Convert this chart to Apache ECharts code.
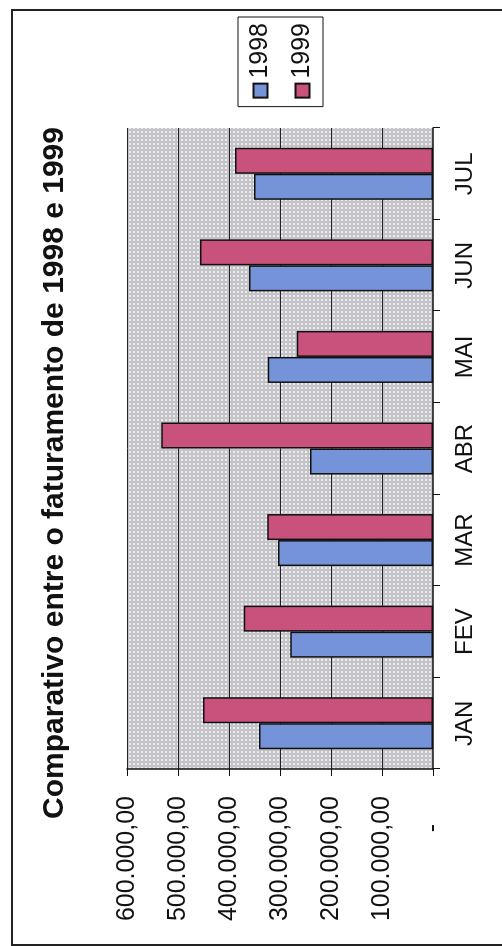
<!DOCTYPE html>
<html>
<head>
<meta charset="utf-8">
<script src="https://cdn.jsdelivr.net/npm/echarts@6/dist/echarts.min.js"></script>
<style>
	html, body { margin: 0; padding: 0; background: #fff; overflow: hidden; }
	/* the scanned chart is turned on its side, so draw it flat and rotate it */
	#main { position: absolute; left: 0; top: 0; width: 946px; height: 502px;
		transform-origin: 0 0; transform: translate(0, 946px) rotate(-90deg); }
</style>
</head>
<body>
<div id="main"></div>
<script>
var meses = ['JAN', 'FEV', 'MAR', 'ABR', 'MAI', 'JUN', 'JUL'];
var fat1998 = [341000, 280000, 304000, 241000, 324000, 361000, 351000];
var fat1999 = [451000, 371000, 325000, 533000, 267000, 457000, 388000];
var escala = [0, 100000, 200000, 300000, 400000, 500000, 600000];

var fonte = '"Liberation Sans", Arial, sans-serif';

// fundo pontilhado da area de plotagem (padrao do Excel)
var tile = document.createElement('canvas');
tile.width = 4;
tile.height = 4;
var ctx2 = tile.getContext('2d');
ctx2.fillStyle = '#c3c3c8';
ctx2.fillRect(0, 0, 4, 4);
ctx2.fillStyle = '#ececee';
ctx2.fillRect(1, 1, 2, 2);

function formata(v) {
	if (v === 0) return '-\u2007\u2007';
	var s = String(Math.round(v));
	s = s.replace(/\B(?=(\d{3})+(?!\d))/g, '.');
	return s + ',00';
}

var myChart = echarts.init(document.getElementById('main'));
myChart.setOption({
	animation : false,
	textStyle : { fontFamily : fonte },
	title : {
		text : 'Comparativo entre o faturamento de 1998 e 1999',
		left : 'center',
		top : 35,
		textStyle : { fontFamily : fonte, fontSize : 30, fontWeight : 'bold', color : '#111' }
	},
	legend : {
		orient : 'vertical',
		right : 17,
		top : 238,
		data : [ '1998', '1999' ],
		icon : 'rect',
		itemWidth : 14,
		itemHeight : 14,
		itemGap : 17,
		padding : [ 10, 6, 8, 8 ],
		borderColor : '#111',
		borderWidth : 1,
		textStyle : { fontFamily : fonte, fontSize : 25, color : '#111' }
	},
	grid : {
		left : 177,
		right : 128,
		top : 127,
		bottom : 69,
		show : true,
		borderWidth : 0,
		backgroundColor : { image : tile, repeat : 'repeat' }
	},
	xAxis : {
		type : 'category',
		data : meses,
		axisLine : { lineStyle : { color : '#111', width : 1.5 } },
		axisTick : { show : true, length : 7, lineStyle : { color : '#111' } },
		axisLabel : { fontFamily : fonte, fontSize : 24, color : '#111', margin : 20 }
	},
	yAxis : {
		type : 'value',
		min : 0,
		max : 600000,
		interval : 100000,
		data : escala,
		axisLine : { show : true, lineStyle : { color : '#111', width : 1.5 } },
		axisTick : { show : true, length : 7, lineStyle : { color : '#111' } },
		axisLabel : { fontFamily : fonte, fontSize : 25, color : '#111', margin : 27, formatter : formata },
		splitLine : { show : true, showMinLine : false, showMaxLine : true, lineStyle : { color : '#222', width : 1 } }
	},
	series : [ {
		name : '1998',
		type : 'bar',
		data : fat1998,
		barWidth : 26,
		barGap : '0%',
		itemStyle : { color : '#7593d8', borderColor : '#111', borderWidth : 1.5 }
	}, {
		name : '1999',
		type : 'bar',
		data : fat1999,
		barWidth : 26,
		barGap : '0%',
		itemStyle : { color : '#c8527c', borderColor : '#111', borderWidth : 1.5 }
	} ],
	graphic : [ {
		type : 'rect',
		shape : { x : 1, y : 12, width : 935, height : 520 },
		style : { fill : 'none', stroke : '#222', lineWidth : 2 }
	} ]
});
</script>
</body>
</html>
